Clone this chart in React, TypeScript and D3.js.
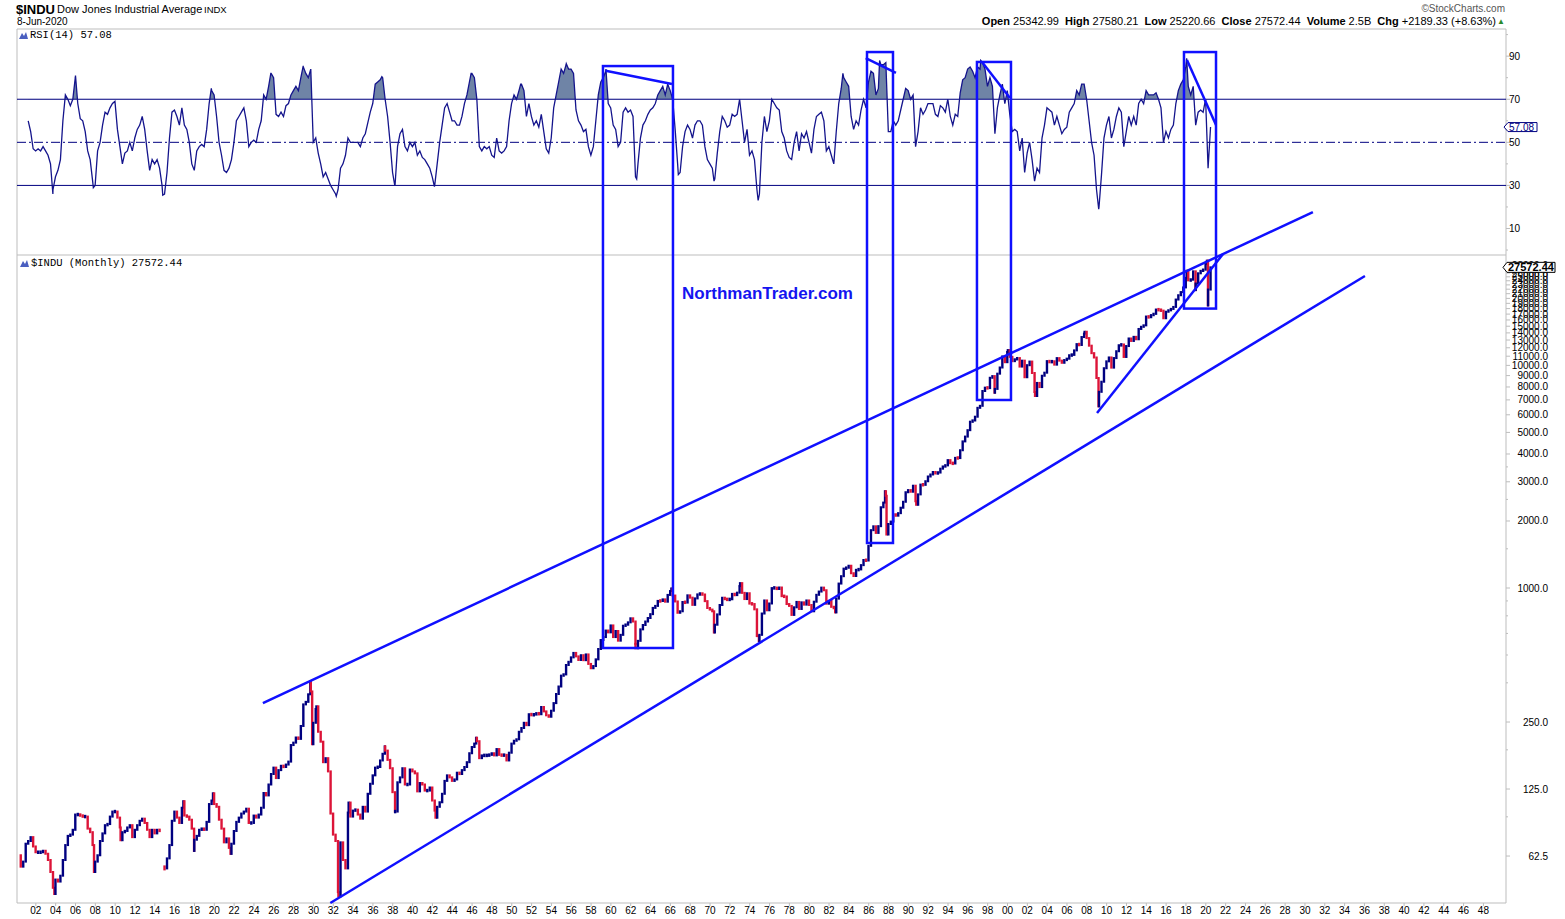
import React from 'react';
import * as d3 from 'd3';

// ---------------- DATA ----------------
// Quarterly closes of the Dow (end of Mar, Jun, Sep, Dec), one array per decade
const dow1900s = [63, 56, 59, 71, 73, 76, 69, 65, 65, 65, 66, 64, 60, 53, 45, 49, 48, 51, 60, 70, 77, 78, 82, 96, 96, 95, 94, 94, 83, 80, 70, 59, 63, 73, 79, 86, 87, 94, 99, 99];
const dow1910s = [93, 84, 80, 81, 84, 86, 76, 82, 86, 90, 92, 88, 82, 76, 82, 79, 82, 81, null, 55, 61, 70, 90, 99, 93, 88, 103, 95, 94, 91, 83, 74, 77, 82, 83, 82, 89, 107, 111, 107];
const dow1920s = [104, 91, 83, 72, 75, 68, 71, 81, 89, 93, 97, 99, 102, 88, 88, 95, 93, 96, 103, 120, 117, 131, 146, 156, 140, 152, 159, 157, 161, 166, 197, 202, 213, 210, 240, 300, 308, 333, 343, 248];
const dow1930s = [286, 226, 204, 165, 172, 150, 97, 78, 73, 43, 72, 60, 55, 98, 94, 100, 101, 96, 92, 104, 99, 119, 132, 144, 156, 157, 168, 180, 186, 169, 155, 121, 99, 134, 141, 155, 131, 131, 153, 150];
const dow1940s = [147, 122, 133, 131, 123, 123, 127, 111, 100, 104, 109, 119, 136, 144, 141, 136, 138, 148, 146, 152, 157, 165, 181, 193, 200, 205, 172, 177, 177, 177, 178, 181, 177, 189, 178, 177, 178, 168, 182, 200];
const dow1950s = [206, 209, 226, 235, 248, 242, 271, 269, 270, 274, 271, 292, 279, 268, 264, 281, 304, 334, 361, 404, 409, 451, 466, 488, 511, 493, 475, 499, 474, 503, 456, 436, 446, 478, 532, 584, 602, 644, 632, 679];
const dow1960s = [602, 641, 580, 616, 677, 684, 701, 731, 707, 561, 579, 652, 682, 707, 733, 763, 814, 831, 875, 874, 889, 868, 931, 969, 925, 870, 774, 786, 865, 860, 927, 905, 840, 898, 936, 944, 935, 873, 813, 800];
const dow1970s = [786, 684, 761, 839, 904, 891, 887, 890, 941, 929, 953, 1020, 951, 892, 947, 851, 847, 802, 608, 616, 768, 879, 794, 852, 999, 1003, 990, 1005, 919, 916, 847, 831, 757, 819, 866, 805, 862, 842, 879, 839];
const dow1980s = [786, 868, 932, 964, 1004, 977, 850, 875, 823, 812, 896, 1047, 1130, 1222, 1233, 1259, 1165, 1132, 1207, 1212, 1267, 1336, 1329, 1547, 1819, 1893, 1768, 1896, 2305, 2419, 2596, 1939, 1988, 2142, 2113, 2169, 2294, 2440, 2693, 2753];
const dow1990s = [2707, 2881, 2453, 2634, 2914, 2907, 3017, 3169, 3236, 3319, 3272, 3301, 3436, 3516, 3555, 3754, 3636, 3625, 3843, 3834, 4158, 4556, 4789, 5117, 5587, 5655, 5882, 6448, 6584, 7673, 7945, 7908, 8800, 8952, 7843, 9181, 9786, 10971, 10337, 11497];
const dow2000s = [10922, 10448, 10651, 10787, 9879, 10502, 8848, 10022, 10404, 9243, 7592, 8342, 7992, 8985, 9275, 10454, 10358, 10435, 10080, 10783, 10504, 10275, 10569, 10718, 11109, 11150, 11679, 12463, 12354, 13409, 13896, 13265, 12263, 11350, 10851, 8776, 7609, 8447, 9712, 10428];
const dow2010s = [10857, 9774, 10788, 11578, 12320, 12414, 10913, 12218, 13212, 12880, 13437, 13104, 14579, 14910, 15130, 16577, 16458, 16827, 17043, 17823, 17776, 17620, 16285, 17425, 17685, 17930, 18308, 19763, 20663, 21350, 22405, 24719, 24103, 24271, 26458, 23327, 25929, 26600, 26917, 28538];
const dow2020s = [21917, 27572.44];

// Intra-quarter highs and lows [year, value]
const dowTurningPoints = [
  [1903.87, 42.2], [1907.87, 53.0], [1910.55, 73.6], [1916.88, 110.2], [1917.96, 65.9],
  [1919.87, 119.6], [1921.64, 63.9], [1929.68, 381.2], [1929.87, 198.7], [1930.3, 294.1],
  [1932.52, 41.2], [1933.55, 108.7], [1937.2, 194.4], [1938.24, 99.0], [1942.32, 92.9],
  [1946.41, 212.5], [1962.48, 535.8], [1966.1, 995.2], [1970.4, 631.2], [1973.03, 1051.7],
  [1974.93, 577.6], [1982.62, 776.9], [1987.65, 2722.4], [1987.8, 1738.7], [1990.8, 2365.1],
  [1998.7, 7539], [2000.04, 11723], [2002.78, 7286], [2007.78, 14164.5], [2009.18, 6547],
  [2018.07, 26616.7], [2018.97, 21792], [2020.12, 29551], [2020.22, 18591.9],
];

// Quarterly RSI(14) readings, one array per decade
const rsi1900s = [null, null, null, null, 60, 55, 47, 46, 47, 46, 48, 46, 44, 40, 28, 34, 37, 42, 60, 72, 70, 67, 70, 80, 68, 61, 60, 55, 46, 42, 32, 30, 46, 50, 58, 64, 63, 66, 68, 69];
const rsi1910s = [56, 48, 40, 45, 46, 50, 46, 52, 56, 58, 62, 56, 46, 37, 42, 40, 42, 38, 30, 26, 36, 52, 64, 65, 62, 58, 66, 58, 56, 50, 40, 37, 46, 48, 49, 48, 56, 68, 74, 72];
const rsi1920s = [62, 50, 44, 37, 36, 38, 42, 50, 60, 62, 64, 66, 60, 48, 50, 51, 50, 56, 60, 72, 70, 76, 82, 80, 63, 62, 64, 62, 67, 68, 72, 74, 76, 74, 80, 85, 82, 80, 84, 50];
const rsi1930s = [52, 45, 40, 34, 36, 33, 30, 28, 26, 28, 38, 40, 44, 52, 50, 50, 50, 50, 48, 52, 54, 59, 64, 68, 77, 78, 79, 80, 70, 62, 50, 36, 30, 48, 54, 56, 48, 46, 50, 48];
const rsi1940s = [50, 44, 46, 43, 42, 40, 38, 34, 30, 40, 50, 58, 66, 68, 64, 60, 60, 58, 58, 62, 68, 72, 78, 82, 80, 70, 48, 46, 48, 47, 48, 44, 43, 52, 46, 45, 46, 48, 60, 68];
const rsi1950s = [72, 70, 74, 77, 74, 62, 68, 62, 58, 60, 57, 63, 55, 47, 45, 52, 66, 72, 78, 84, 82, 86, 84, 84, 82, 65, 60, 58, 55, 56, 48, 44, 48, 60, 72, 78, 80, 83, 68, 66];
const rsi1960s = [58, 56, 48, 50, 64, 66, 64, 65, 62, 34, 40, 52, 58, 60, 63, 65, 66, 68, 72, 74, 76, 72, 77, 74, 70, 56, 40, 36, 48, 55, 58, 56, 52, 58, 60, 60, 58, 48, 42, 40];
const rsi1970s = [38, 33, 45, 55, 62, 60, 57, 58, 63, 62, 63, 70, 60, 50, 56, 44, 46, 42, 28, 26, 50, 62, 55, 60, 70, 68, 66, 65, 55, 52, 46, 43, 42, 50, 55, 46, 54, 52, 55, 50];
const rsi1980s = [45, 56, 62, 63, 64, 60, 46, 48, 44, 40, 55, 68, 75, 80, 78, 76, 62, 56, 60, 58, 65, 70, 66, 78, 83, 82, 72, 75, 86, 86, 87, 55, 55, 60, 58, 60, 65, 70, 75, 74];
const rsi1990s = [70, 72, 48, 55, 66, 63, 65, 68, 68, 68, 63, 62, 67, 66, 64, 70, 62, 58, 63, 62, 73, 79, 80, 84, 85, 83, 80, 85, 84, 87, 84, 76, 80, 76, 54, 66, 72, 77, 68, 74];
const rsi2000s = [63, 55, 56, 55, 46, 52, 36, 45, 50, 42, 32, 38, 36, 52, 58, 66, 65, 64, 58, 62, 58, 54, 56, 57, 64, 66, 68, 74, 72, 77, 77, 70, 60, 50, 44, 28, 20, 35, 52, 58];
const rsi2010s = [62, 52, 56, 62, 66, 64, 48, 55, 62, 58, 62, 58, 68, 70, 68, 74, 72, 72, 72, 73, 70, 66, 50, 55, 52, 56, 58, 68, 74, 77, 79, 85, 76, 72, 76, 58, 64, 65, 64, 70];
const rsi2020s = [38, 57.08];

const rsiTurningPoints = [
  [1903.72, 26], [1906.0, 81], [1907.8, 29], [1914.8, 25.5], [1919.7, 75], [1925.7, 82],
  [1928.97, 85.5], [1932.3, 25], [1936.9, 80.5], [1938.2, 30], [1942.2, 29.5], [1945.9, 82],
  [1950.9, 77], [1955.5, 86.5], [1959.5, 84], [1962.6, 33], [1966.8, 35], [1970.4, 32],
  [1974.85, 23], [1983.4, 82], [1987.1, 88], [1997.3, 88], [2009.2, 19], [2018.07, 89],
];

const decadeStarts = [1900, 1910, 1920, 1930, 1940, 1950, 1960, 1970, 1980, 1990, 2000, 2010, 2020];
const dowByDecade = [dow1900s, dow1910s, dow1920s, dow1930s, dow1940s, dow1950s, dow1960s, dow1970s, dow1980s, dow1990s, dow2000s, dow2010s, dow2020s];
const rsiByDecade = [rsi1900s, rsi1910s, rsi1920s, rsi1930s, rsi1940s, rsi1950s, rsi1960s, rsi1970s, rsi1980s, rsi1990s, rsi2000s, rsi2010s, rsi2020s];

// Axis ticks
const yearTicks = [1902, 1904, 1906, 1908, 1910, 1912, 1914, 1916, 1918, 1920, 1922, 1924, 1926, 1928, 1930, 1932, 1934, 1936, 1938, 1940, 1942, 1944, 1946, 1948, 1950, 1952, 1954, 1956, 1958, 1960, 1962, 1964, 1966, 1968, 1970, 1972, 1974, 1976, 1978, 1980, 1982, 1984, 1986, 1988, 1990, 1992, 1994, 1996, 1998, 2000, 2002, 2004, 2006, 2008, 2010, 2012, 2014, 2016, 2018, 2020, 2022, 2024, 2026, 2028, 2030, 2032, 2034, 2036, 2038, 2040, 2042, 2044, 2046, 2048];
const priceTicks = [62.5, 125, 250, 1000, 2000, 3000, 4000, 5000, 6000, 7000, 8000, 9000, 10000, 11000, 12000, 13000, 14000, 15000, 16000, 17000, 18000, 19000, 20000, 21000, 22000, 23000, 24000, 25000, 26000, 27000, 28000];
const priceMinorTicks = [93.75, 187.5, 375, 500, 625, 750, 875, 1500, 2500, 3500];
const rsiTicks = [10, 30, 50, 70, 90];
const rsiMinorTicks = [0, 20, 40, 60, 80, 100];

// Annotations (in data units)
const trendLines = [
  { from: [1924.9, 304], to: [2030.8, 48870] },
  { from: [1931.7, 38.45], to: [2036.05, 25210] },
  { from: [2009.03, 6112], to: [2021.74, 31650] },
];
const highlightBoxes = [
  { from: 1959.2, to: 1966.26, rsiTop: 85.4, priceBottom: 537.6 },
  { from: 1985.83, to: 1988.45, rsiTop: 91.9, priceBottom: 1593 },
  { from: 1996.92, to: 2000.35, rsiTop: 87.3, priceBottom: 6992 },
  { from: 2017.8, to: 2021.03, rsiTop: 91.9, priceBottom: 18000 },
];
const rsiDivergences = [
  { from: [1959.47, 83.2], to: [1966.16, 77.05] },
  { from: [1985.7, 89.1], to: [1988.75, 82.2] },
  { from: [1997.43, 87.3], to: [2000.25, 70.6] },
  { from: [2018.1, 88.2], to: [2021.03, 58.0] },
];

const lastClose = 27572.44;
const lastRsi = 57.08;

// ---------------- CHART ----------------
const NAVY = '#000080';
const RED = '#dc1438';
const BLUE = '#1010ff';
const GRID = '#bdbdbd';
const SANS = '"Liberation Sans", Arial, sans-serif';
const MONO = '"Liberation Mono", "DejaVu Sans Mono", monospace';

type Pt = { t: number; v: number | null };

export default function App() {
  const W = 1565, H = 919;
  const left = 17, right = 1506, top = 29, split = 255, bottom = 903;

  const x = d3.scaleLinear().domain([1900, 2050]).range([16, 1503.25]);
  const yP = d3.scaleLog().domain([38.45, 30690]).range([bottom, 257]);
  const yR = d3.scaleLinear().domain([-2.3, 102.6]).range([split, top]);

  const pricePts: Pt[] = [];
  const rsiPts: Pt[] = [];
  decadeStarts.forEach((s, k) => {
    dowByDecade[k].forEach((v, i) => pricePts.push({ t: s + i / 4 + 0.23, v }));
    rsiByDecade[k].forEach((v, i) => rsiPts.push({ t: s + i / 4 + 0.23, v }));
  });
  dowTurningPoints.forEach(([t, v]) => pricePts.push({ t, v }));
  rsiTurningPoints.forEach(([t, v]) => rsiPts.push({ t, v }));
  pricePts.sort((a, b) => a.t - b.t);
  rsiPts.sort((a, b) => a.t - b.t);

  const bars: React.ReactNode[] = [];
  for (let i = 1; i < pricePts.length; i++) {
    const p = pricePts[i - 1], c = pricePts[i];
    if (c.v == null) continue;
    const xx = x(c.t);
    if (p.v == null) {
      const yc = yP(c.v);
      bars.push(<line key={i} x1={xx} x2={xx} y1={yc - 3} y2={yc + 2} stroke={RED} strokeWidth={2.4} />);
      continue;
    }
    const up = c.v >= p.v;
    let y1 = yP(p.v), y2 = yP(c.v);
    const lo = Math.max(y1, y2) + 1, hi = Math.min(y1, y2) - 1;
    let a = hi, b = lo;
    if (b - a < 3.5) { const m = (a + b) / 2; a = m - 1.75; b = m + 1.75; }
    bars.push(<line key={i} x1={xx} x2={xx} y1={a} y2={b} stroke={up ? NAVY : RED} strokeWidth={2.4} />);
  }

  const rsiLine = d3.line<Pt>().defined(d => d.v != null).x(d => x(d.t)).y(d => yR(d.v as number))(rsiPts) || '';
  const rsiArea = d3.area<Pt>().defined(d => d.v != null).x(d => x(d.t)).y0(yR(70)).y1(d => yR(d.v as number))(rsiPts) || '';

  const yLast = yP(lastClose);
  const yRsiLast = yR(lastRsi);

  return (
    <svg width={W} height={H} style={{ position: 'absolute', left: 0, top: 0, background: '#fff' }}
      xmlns="http://www.w3.org/2000/svg">
      <defs>
        <clipPath id="above70"><rect x={left} y={top} width={right - left} height={yR(70) - top} /></clipPath>
      </defs>
      <rect x={0} y={0} width={W} height={H} fill="#fff" />

      {/* Header */}
      <text x={16} y={14} fontFamily={SANS} fontSize={13} fontWeight="bold" fill="#000">$INDU</text>
      <text x={57} y={13} fontFamily={SANS} fontSize={11} fill="#000">Dow Jones Industrial Average</text>
      <text x={204} y={13} fontFamily={SANS} fontSize={9.5} fill="#000">INDX</text>
      <text x={17} y={25} fontFamily={SANS} fontSize={10} fill="#000">8-Jun-2020</text>
      <text x={1505} y={12} fontFamily={SANS} fontSize={10} fill="#555" textAnchor="end">©StockCharts.com</text>
      <text x={1496} y={25} fontFamily={SANS} fontSize={11} fill="#000" textAnchor="end" style={{ whiteSpace: 'pre' }}>
        <tspan fontWeight="bold">Open</tspan><tspan> 25342.99  </tspan>
        <tspan fontWeight="bold">High</tspan><tspan> 27580.21  </tspan>
        <tspan fontWeight="bold">Low</tspan><tspan> 25220.66  </tspan>
        <tspan fontWeight="bold">Close</tspan><tspan> 27572.44  </tspan>
        <tspan fontWeight="bold">Volume</tspan><tspan> 2.5B  </tspan>
        <tspan fontWeight="bold">Chg</tspan><tspan> +2189.33 (+8.63%)</tspan>
      </text>
      <text x={1505} y={24} fontFamily={SANS} fontSize={8} fill="#2a8a2a" textAnchor="end">▲</text>

      {/* Frame */}
      <g stroke={GRID} strokeWidth={1} fill="none">
        <line x1={left} y1={top} x2={right} y2={top} />
        <line x1={left} y1={top} x2={left} y2={bottom} />
        <line x1={right} y1={top} x2={right} y2={bottom} />
        <line x1={left} y1={bottom} x2={right} y2={bottom} />
        <line x1={left} y1={split} x2={right} y2={split} />
      </g>

      {/* RSI panel */}
      <path d="M19,39 L22,33 L24,36 L26,32 L28,39 Z" fill="#4a5fc0" />
      <text x={30} y={38} fontFamily={MONO} fontSize={10.5} fill="#000">RSI(14) 57.08</text>
      <g clipPath="url(#above70)"><path d={rsiArea} fill="#6f84a6" /></g>
      <line x1={left} x2={right} y1={yR(70)} y2={yR(70)} stroke={NAVY} strokeWidth={1} />
      <line x1={left} x2={right} y1={yR(30)} y2={yR(30)} stroke={NAVY} strokeWidth={1} />
      <line x1={left} x2={right} y1={yR(50)} y2={yR(50)} stroke={NAVY} strokeWidth={1} strokeDasharray="9,3,2,3" />
      <path d={rsiLine} fill="none" stroke="#14148c" strokeWidth={1.3} />
      {rsiTicks.map(t => (
        <g key={'rt' + t}>
          <line x1={right} x2={right + 4} y1={yR(t)} y2={yR(t)} stroke={GRID} />
          <text x={right + 3} y={yR(t) + 3.5} fontFamily={SANS} fontSize={10} fill="#000">{t}</text>
        </g>
      ))}
      {rsiMinorTicks.map(t => (
        <line key={'rm' + t} x1={right} x2={right + 2} y1={yR(t)} y2={yR(t)} stroke={GRID} />
      ))}
      <path d={`M${right - 2},${yRsiLast} L${right + 2},${yRsiLast - 4.5} L${right + 31},${yRsiLast - 4.5} L${right + 31},${yRsiLast + 4.5} L${right + 2},${yRsiLast + 4.5} Z`}
        fill="#fff" stroke={NAVY} strokeWidth={1} />
      <text x={right + 3} y={yRsiLast + 3.5} fontFamily={SANS} fontSize={10} fill={NAVY}>{lastRsi.toFixed(2)}</text>

      {/* Price panel */}
      <path d="M20,267 L23,261 L25,264 L27,260 L29,267 Z" fill="#4a5fc0" />
      <text x={31} y={266} fontFamily={MONO} fontSize={10.5} fill="#000">$INDU (Monthly) 27572.44</text>
      {priceMinorTicks.map(t => (
        <line key={'pm' + t} x1={right} x2={right + 2} y1={yP(t)} y2={yP(t)} stroke={GRID} />
      ))}
      {priceTicks.map(t => (
        <g key={'pt' + t}>
          <line x1={right} x2={right + 4} y1={yP(t)} y2={yP(t)} stroke={GRID} />
          <text x={1548} y={yP(t) + 3.5} fontFamily={SANS} fontSize={10} fill="#000" textAnchor="end">{t.toFixed(1)}</text>
        </g>
      ))}
      <path d={`M${right - 3},${yLast} L${right + 1},${yLast - 5} L${right + 49},${yLast - 5} L${right + 49},${yLast + 5} L${right + 1},${yLast + 5} Z`}
        fill="#fff" stroke="#000" strokeWidth={1} />
      <text x={right + 2} y={yLast + 4} fontFamily={SANS} fontSize={11} fontWeight="bold" fill="#000">{lastClose.toFixed(2)}</text>

      <g>{bars}</g>

      {/* X axis */}
      {yearTicks.map(yr => (
        <g key={'x' + yr}>
          <line x1={x(yr)} x2={x(yr)} y1={bottom} y2={bottom + 3} stroke={GRID} />
          <text x={x(yr)} y={914} fontFamily={SANS} fontSize={10} fill="#000" textAnchor="middle">{String(yr % 100).padStart(2, '0')}</text>
        </g>
      ))}

      {/* Annotations */}
      <g stroke={BLUE} strokeWidth={2.5} fill="none">
        {trendLines.map((l, i) => (
          <line key={'tl' + i} x1={x(l.from[0])} y1={yP(l.from[1])} x2={x(l.to[0])} y2={yP(l.to[1])} />
        ))}
        {highlightBoxes.map((b, i) => (
          <rect key={'hb' + i} x={x(b.from)} y={yR(b.rsiTop)} width={x(b.to) - x(b.from)} height={yP(b.priceBottom) - yR(b.rsiTop)} />
        ))}
        {rsiDivergences.map((l, i) => (
          <line key={'rd' + i} x1={x(l.from[0])} y1={yR(l.from[1])} x2={x(l.to[0])} y2={yR(l.to[1])} />
        ))}
      </g>
      <text x={682} y={299} fontFamily={SANS} fontSize={17} fontWeight="bold" fill="#1414f0">NorthmanTrader.com</text>
    </svg>
  );
}
